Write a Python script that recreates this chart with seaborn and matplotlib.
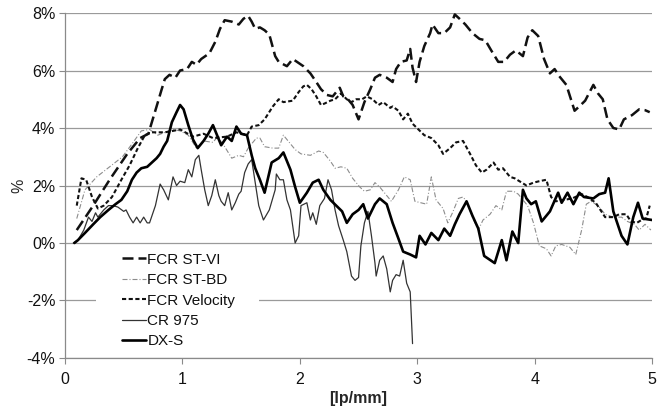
import matplotlib
matplotlib.use("Agg")
import matplotlib.pyplot as plt
from matplotlib.patches import Rectangle
from matplotlib.ticker import FuncFormatter
import seaborn as sns
import pandas as pd

# Spatial frequency [lp/mm] and relative difference [%] for each detector system
st_vi_x = [0.10, 0.24, 0.38, 0.53, 0.64, 0.71, 0.78, 0.82, 0.85, 0.89, 0.94, 0.98, 1.04, 1.08, 1.12,
           1.16, 1.23, 1.28, 1.32, 1.36, 1.42, 1.48, 1.52, 1.56, 1.59, 1.62, 1.66, 1.70, 1.74, 1.79,
           1.82, 1.89, 1.94, 2.03, 2.09, 2.14, 2.18, 2.23, 2.28, 2.34, 2.37, 2.41, 2.45, 2.50, 2.55,
           2.60, 2.64, 2.68, 2.74, 2.79, 2.82, 2.86, 2.91, 2.94, 2.96, 2.99, 3.02, 3.06, 3.11, 3.13,
           3.18, 3.23, 3.28, 3.32, 3.36, 3.41, 3.47, 3.53, 3.58, 3.63, 3.69, 3.74, 3.79, 3.84, 3.90,
           3.94, 3.98, 4.03, 4.08, 4.13, 4.17, 4.21, 4.27, 4.34, 4.38, 4.43, 4.50, 4.54, 4.58, 4.62,
           4.67, 4.72, 4.76, 4.83, 4.89, 4.94, 4.98]
st_vi_y = [0.45, 1.3, 2.2, 3.1, 3.65, 3.8, 4.75, 5.3, 5.7, 5.85, 5.75, 6.0, 6.05, 6.3, 6.2,
           6.4, 6.6, 7.0, 7.45, 7.75, 7.7, 7.6, 7.8, 7.9, 7.7, 7.45, 7.5, 7.4, 7.25, 6.5,
           6.3, 6.15, 6.4, 6.15, 5.9, 5.6, 5.35, 5.15, 5.1, 5.4, 5.1, 5.0, 4.8, 4.3, 4.9,
           5.35, 5.75, 5.85, 5.75, 5.6, 6.05, 6.3, 6.35, 6.75, 6.1, 5.6, 6.3, 6.85, 7.3, 7.6,
           7.3, 7.3, 7.5, 7.95, 7.8, 7.6, 7.3, 7.1, 7.05, 6.7, 6.3, 6.3, 6.55, 6.7, 6.5,
           7.15, 7.4, 7.2, 6.4, 5.9, 6.05, 5.8, 5.5, 4.6, 4.75, 4.95, 5.5, 5.2, 5.0, 4.3,
           4.0, 3.95, 4.3, 4.45, 4.65, 4.62, 4.55]

st_bd_x = [0.10, 0.17, 0.27, 0.38, 0.49, 0.58, 0.65, 0.72, 0.79, 0.85, 0.92, 0.98, 1.05, 1.12, 1.18,
           1.26, 1.30, 1.36, 1.42, 1.48, 1.52, 1.56, 1.60, 1.63, 1.66, 1.70, 1.77, 1.82, 1.86, 1.90,
           1.96, 2.01, 2.09, 2.16, 2.20, 2.26, 2.30, 2.35, 2.40, 2.45, 2.51, 2.55, 2.60, 2.64, 2.68,
           2.74, 2.78, 2.84, 2.89, 2.94, 2.98, 3.03, 3.08, 3.12, 3.16, 3.22, 3.26, 3.30, 3.35, 3.39,
           3.42, 3.47, 3.52, 3.56, 3.62, 3.67, 3.72, 3.76, 3.82, 3.86, 3.90, 3.94, 3.99, 4.04, 4.10,
           4.14, 4.18, 4.23, 4.30, 4.35, 4.40, 4.44, 4.48, 4.54, 4.60, 4.67, 4.74, 4.79, 4.85, 4.89,
           4.94, 4.99]
st_bd_y = [0.85, 1.85, 2.3, 2.65, 3.0, 3.5, 3.9, 3.95, 3.75, 3.85, 3.95, 3.9, 3.75, 3.3, 3.55,
           3.5, 3.7, 3.35, 2.95, 3.05, 3.0, 3.3, 3.5, 3.65, 3.65, 3.35, 3.3, 3.3, 3.75, 3.55,
           3.25, 3.1, 3.05, 3.2, 3.15, 2.85, 2.6, 2.65, 2.6, 2.25, 1.95, 1.8, 1.85, 2.1, 1.95,
           1.65, 1.45, 1.85, 2.3, 2.2, 1.45, 1.4, 1.35, 2.3, 1.5, 1.2, 0.7, 1.05, 1.55, 1.6,
           1.45, 0.9, 0.45, 0.8, 1.0, 1.3, 1.15, 1.8, 1.8, 1.7, 1.5, 1.3, 0.7, -0.1, -0.2,
           -0.45, -0.1, -0.05, -0.15, -0.4, 0.45, 1.35, 1.45, 1.3, 1.0, 0.9, 0.9, 0.75, 0.65, 0.45,
           0.65, 0.45]

vel_x = [0.10, 0.14, 0.18, 0.23, 0.28, 0.33, 0.40, 0.48, 0.55, 0.62, 0.68, 0.74, 0.85, 0.92, 0.98,
         1.09, 1.18, 1.26, 1.38, 1.46, 1.55, 1.59, 1.65, 1.70, 1.77, 1.82, 1.86, 1.94, 1.99, 2.03,
         2.06, 2.10, 2.14, 2.18, 2.21, 2.26, 2.30, 2.35, 2.40, 2.44, 2.48, 2.53, 2.57, 2.62, 2.67,
         2.71, 2.77, 2.79, 2.84, 2.88, 2.92, 2.96, 3.01, 3.06, 3.12, 3.18, 3.22, 3.28, 3.33, 3.39,
         3.45, 3.50, 3.55, 3.59, 3.65, 3.69, 3.73, 3.79, 3.83, 3.89, 3.93, 3.99, 4.04, 4.10, 4.14,
         4.18, 4.25, 4.32, 4.40, 4.45, 4.52, 4.60, 4.67, 4.72, 4.78, 4.82, 4.87, 4.91, 4.95, 4.98]
vel_y = [1.3, 2.25, 2.2, 1.6, 1.2, 1.3, 1.6, 2.2, 2.7, 3.3, 3.75, 3.85, 3.85, 3.9, 3.95,
         3.7, 3.8, 3.65, 3.7, 3.85, 3.75, 4.05, 4.1, 4.3, 4.75, 5.0, 4.9, 4.95, 5.25, 5.45,
         5.5, 5.35, 5.1, 4.8, 4.85, 4.95, 5.0, 5.2, 5.0, 4.9, 5.0, 5.0, 5.1, 5.0, 4.8,
         4.9, 4.7, 4.75, 4.6, 4.3, 4.5, 4.15, 3.95, 3.75, 3.65, 3.4, 3.1, 3.3, 3.5, 3.55,
         3.1, 2.7, 2.45, 2.55, 2.8, 2.55, 2.6, 2.3, 2.25, 2.1, 2.0, 2.1, 2.15, 2.2, 1.6,
         1.45, 1.5, 1.55, 1.7, 1.6, 1.4, 0.9, 0.9, 1.0, 1.0, 0.75, 0.7, 0.8, 0.85, 1.3]

cr_x = [0.07, 0.11, 0.16, 0.20, 0.23, 0.26, 0.28, 0.33, 0.37, 0.41, 0.45, 0.50, 0.52, 0.55, 0.58,
        0.61, 0.64, 0.67, 0.70, 0.72, 0.77, 0.81, 0.84, 0.88, 0.92, 0.95, 0.98, 1.02, 1.05, 1.08,
        1.11, 1.14, 1.16, 1.19, 1.22, 1.25, 1.28, 1.31, 1.33, 1.36, 1.39, 1.42, 1.45, 1.48, 1.50,
        1.53, 1.56, 1.59, 1.62, 1.65, 1.69, 1.74, 1.79, 1.80, 1.83, 1.86, 1.89, 1.92, 1.96, 1.99,
        2.01, 2.06, 2.09, 2.11, 2.14, 2.17, 2.21, 2.24, 2.27, 2.30, 2.33, 2.37, 2.40, 2.44, 2.47,
        2.50, 2.52, 2.55, 2.58, 2.61, 2.64, 2.65, 2.68, 2.71, 2.74, 2.77, 2.79, 2.82, 2.85, 2.88,
        2.91, 2.94, 2.96]
cr_y = [0.0, 0.1, 0.45, 0.9, 0.75, 1.05, 0.9, 1.15, 1.3, 1.3, 1.25, 1.1, 1.15, 0.9, 0.7,
        0.9, 0.7, 0.9, 0.7, 0.7, 1.3, 2.05, 1.85, 1.5, 2.3, 2.0, 2.15, 2.1, 2.55, 2.3,
        2.9, 3.05, 2.55, 1.85, 1.3, 1.65, 2.2, 1.65, 1.45, 1.3, 1.75, 1.15, 1.4, 1.7, 1.8,
        2.45, 2.75, 2.9, 2.1, 1.3, 0.8, 1.15, 1.85, 2.4, 2.2, 2.2, 1.5, 1.15, 0.0, 0.25,
        1.3, 1.4, 0.8, 1.05, 0.65, 1.3, 1.55, 2.2, 1.85, 1.15, 0.6, 0.1, -0.3, -1.15, -1.3,
        -1.2, -0.1, 0.7, 1.1, 0.25, -0.7, -1.15, -0.6, -0.45, -0.9, -1.7, -1.3, -1.1, -1.15, -0.6,
        -1.4, -1.7, -3.5]

dxs_x = [0.08, 0.11, 0.17, 0.24, 0.30, 0.37, 0.43, 0.48, 0.53, 0.57, 0.61, 0.65, 0.70, 0.74, 0.78,
         0.81, 0.84, 0.87, 0.91, 0.95, 0.98, 1.01, 1.05, 1.09, 1.13, 1.18, 1.22, 1.26, 1.30, 1.33,
         1.38, 1.42, 1.46, 1.50, 1.55, 1.59, 1.62, 1.66, 1.70, 1.76, 1.82, 1.86, 1.92, 1.96, 2.00,
         2.06, 2.11, 2.16, 2.20, 2.26, 2.31, 2.36, 2.40, 2.45, 2.50, 2.54, 2.58, 2.64, 2.68, 2.74,
         2.79, 2.84, 2.88, 2.94, 2.99, 3.02, 3.07, 3.12, 3.18, 3.23, 3.28, 3.32, 3.36, 3.42, 3.47,
         3.52, 3.57, 3.66, 3.72, 3.76, 3.81, 3.86, 3.90, 3.93, 3.97, 4.01, 4.06, 4.13, 4.20, 4.23,
         4.28, 4.33, 4.38, 4.42, 4.50, 4.55, 4.60, 4.63, 4.67, 4.74, 4.79, 4.84, 4.88, 4.92, 5.00]
dxs_y = [0.0, 0.1, 0.35, 0.65, 0.9, 1.15, 1.35, 1.5, 1.8, 2.2, 2.45, 2.6, 2.65, 2.8, 2.95,
         3.1, 3.35, 3.55, 4.2, 4.55, 4.8, 4.65, 4.1, 3.6, 3.3, 3.55, 3.8, 4.1, 3.7, 3.4,
         3.7, 3.55, 4.05, 3.8, 3.75, 3.05, 2.6, 2.2, 1.75, 2.8, 2.95, 3.15, 2.55, 1.95, 1.4,
         1.75, 2.1, 2.2, 1.85, 1.5, 1.3, 1.1, 0.7, 1.0, 1.15, 1.35, 0.85, 1.35, 1.55, 1.35,
         0.7, 0.15, -0.3, -0.4, -0.5, 0.25, -0.05, 0.35, 0.1, 0.5, 0.25, 0.65, 1.0, 1.45, 0.95,
         0.5, -0.45, -0.7, 0.1, -0.6, 0.4, 0.0, 1.85, 1.55, 1.35, 1.45, 0.75, 1.1, 1.75, 1.4,
         1.75, 1.35, 1.75, 1.6, 1.55, 1.7, 1.75, 2.25, 1.1, 0.25, -0.05, 0.9, 1.4, 0.85, 0.8]

series = ["FCR ST-VI", "FCR ST-BD", "FCR Velocity", "CR 975", "DX-S"]
y_ticks = [-4, -2, 0, 2, 4, 6, 8]
x_ticks = [0, 1, 2, 3, 4, 5]

frames = []
for name, xs, ys in zip(series,
                        [st_vi_x, st_bd_x, vel_x, cr_x, dxs_x],
                        [st_vi_y, st_bd_y, vel_y, cr_y, dxs_y]):
    frames.append(pd.DataFrame({"series": name, "lpmm": xs, "diff": ys}))
df = pd.concat(frames, ignore_index=True)

styles = {
    "FCR ST-VI":    dict(color="#111111", linewidth=1.8, linestyle=(0, (4.4, 2.0))),
    "FCR ST-BD":    dict(color="#8c8c8c", linewidth=0.8, linestyle=(0, (4.5, 1.8, 0.9, 1.8))),
    "FCR Velocity": dict(color="#111111", linewidth=1.5, linestyle=(0, (2.0, 1.2))),
    "CR 975":       dict(color="#333333", linewidth=0.9, linestyle="-"),
    "DX-S":         dict(color="#000000", linewidth=1.9, linestyle="-"),
}

sns.set_style("white")
plt.rcParams["font.family"] = ["Liberation Sans", "DejaVu Sans"]
plt.rcParams["font.size"] = 11.5

fig = plt.figure(figsize=(6.62, 4.09), dpi=100)
ax = fig.add_axes([0.0982, 0.1247, 0.8868, 0.8435])

for name in series:
    sub = df[df["series"] == name]
    sns.lineplot(data=sub, x="lpmm", y="diff", ax=ax, label=name,
                 estimator=None, sort=False, zorder=3, **styles[name])

ax.set_xlim(0, 5)
ax.set_ylim(-4, 8)
ax.set_xticks(x_ticks)
ax.set_yticks(y_ticks)
ax.yaxis.set_major_formatter(FuncFormatter(lambda v, p: f"{v:.0f}%"))

ax.grid(axis="y", color="#9a9a9a", linewidth=0.9)
ax.grid(axis="x", visible=False)
ax.set_axisbelow(True)
for side in ("top", "right"):
    ax.spines[side].set_visible(False)
for side in ("left", "bottom"):
    ax.spines[side].set_color("#8a8a8a")
    ax.spines[side].set_linewidth(0.9)
ax.tick_params(axis="both", which="major", length=4, width=0.8, color="#8a8a8a",
               labelsize=11.5, labelcolor="#111111")
ax.tick_params(axis="x", direction="out", bottom=True, pad=6)
ax.tick_params(axis="y", direction="out", left=True, pad=3)

ax.set_xlabel("[lp/mm]", fontweight="bold", fontsize=11.5, labelpad=3)
ax.set_ylabel("%", fontsize=11.5, labelpad=0)

# white backing behind the legend so the -2% grid line is broken there
ax.add_patch(Rectangle((0.053, 0.14), 0.277, 0.05, transform=ax.transAxes,
                       facecolor="white", edgecolor="none", zorder=1))

leg = ax.legend(loc="upper left", bbox_to_anchor=(0.097, 0.305), frameon=False,
                borderpad=0, borderaxespad=0, handlelength=1.55, handletextpad=0.12,
                labelspacing=0.42, fontsize=11)
for t in leg.get_texts():
    t.set_color("#111111")

fig.savefig("out.png", dpi=100)
